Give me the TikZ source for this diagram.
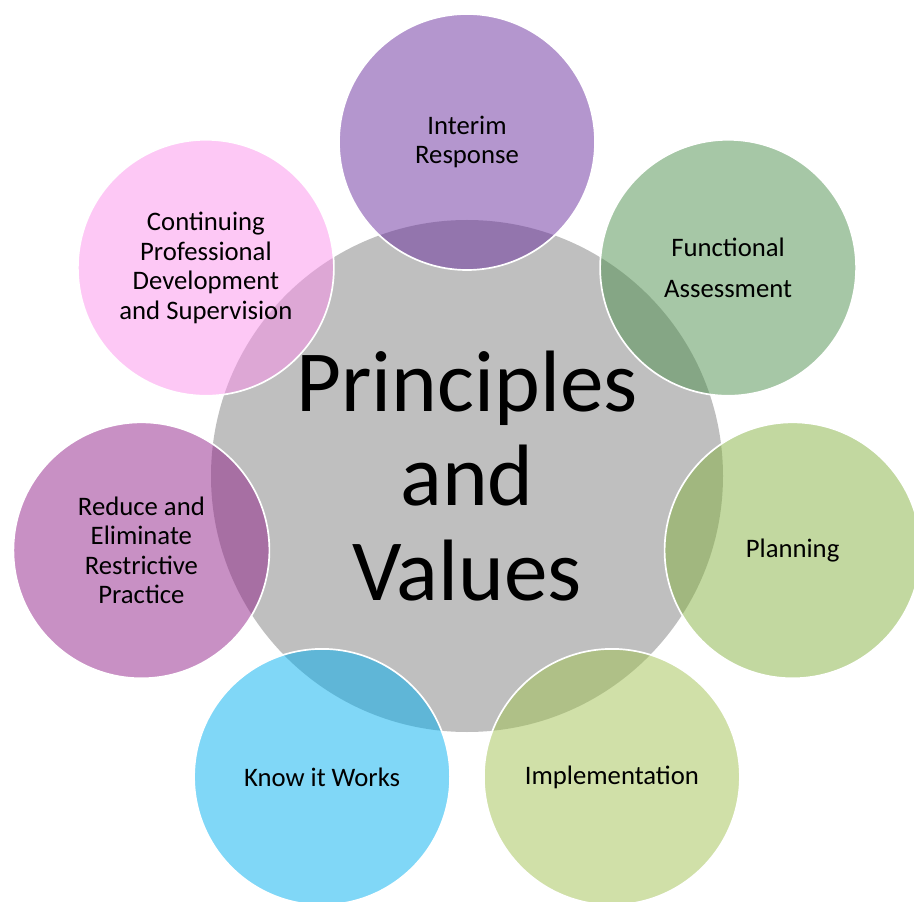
\documentclass[tikz,border=0pt]{standalone}
\usepackage{fontspec}
\setmainfont{Carlito}
\usetikzlibrary{calc}

\definecolor{coregrey}{RGB}{191,191,191}
\definecolor{interim}{RGB}{105,45,157}
\definecolor{functional}{RGB}{77,143,77}
\definecolor{planning}{RGB}{133,177,65}
\definecolor{implement}{RGB}{161,193,81}
\definecolor{knowit}{RGB}{1,175,239}
\definecolor{reduce}{RGB}{145,33,137}
\definecolor{cpd}{RGB}{251,145,235}

\begin{document}
\begin{tikzpicture}[
  bubble/.style={circle, minimum size=6.4cm, inner sep=0pt, draw=white, line width=1.2pt,
    fill opacity=0.5, text opacity=1, align=center, font=\fontsize{19}{21}\selectfont},
  hub/.style={circle, minimum size=12.8cm, inner sep=0pt, fill=coregrey,
    align=center, font=\fontsize{62}{67.5}\selectfont}
  ]

  \clip (0,0) rectangle (22.85,-22.55);

  % centre
  \node[hub] (core) at (11.675,-11.9) {Principles\\and\\Values};

  % ring of seven
  \foreach \name/\col/\txt [count=\i] in {
      interimresp/interim/{Interim\\Response},
      funcassess/functional/{Functional\\[8pt]Assessment},
      plan/planning/{Planning},
      implementation/implement/{Implementation},
      knowworks/knowit/{Know it Works},
      reducerp/reduce/{Reduce and\\Eliminate\\Restrictive\\Practice},
      cpdsup/cpd/{Continuing\\Professional\\Development\\and Supervision}}
    \node[bubble, fill=\col] (\name) at ($(core)+({90-(\i-1)*360/7}:8.35)$) {\txt};

\end{tikzpicture}
\end{document}
